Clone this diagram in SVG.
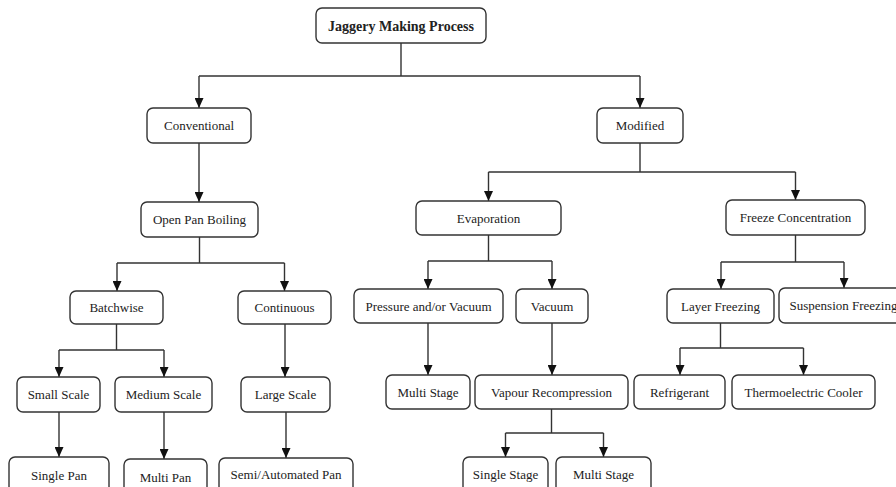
<svg xmlns="http://www.w3.org/2000/svg" width="896" height="487" viewBox="0 0 896 487">
<style>
.box{fill:#fff;stroke:#333;stroke-width:1.4}
.t{font-family:"Liberation Serif","Times New Roman",serif;font-size:13px;fill:#222;text-anchor:middle}
.tb{font-family:"Liberation Serif","Times New Roman",serif;font-size:14px;font-weight:bold;fill:#222;text-anchor:middle}
.c{fill:none;stroke:#333;stroke-width:1.4}
.a{fill:none;stroke:#333;stroke-width:1.4;marker-end:url(#arr)}
</style>
<defs>
<marker id="arr" markerUnits="userSpaceOnUse" markerWidth="10" markerHeight="9" refX="10" refY="4.5" orient="auto">
<path d="M0,0 L10,4.5 L0,9 z" fill="#111"/>
</marker>
</defs>
<rect width="896" height="487" fill="#fff"/>
<g id="connectors">
<path class="c" d="M401,43 V76 M199,76 H640"/>
<path class="a" d="M199,76 V108"/>
<path class="a" d="M640,76 V108"/>
<path class="a" d="M199,143 V202"/>
<path class="c" d="M199.5,237 V263 M117,263 H284.5"/>
<path class="a" d="M117,263 V291"/>
<path class="a" d="M284.5,263 V291"/>
<path class="c" d="M116.5,324 V350 M59,350 H164"/>
<path class="a" d="M59,350 V377"/>
<path class="a" d="M164,350 V377"/>
<path class="a" d="M285,324 V377"/>
<path class="a" d="M59,412 V457"/>
<path class="a" d="M164,412 V459"/>
<path class="a" d="M286,412 V458"/>
<path class="c" d="M640,143 V172 M488.5,172 H795.5"/>
<path class="a" d="M488.5,172 V201"/>
<path class="a" d="M795.5,172 V200"/>
<path class="c" d="M488.5,235 V261 M428,261 H552"/>
<path class="a" d="M428,261 V289"/>
<path class="a" d="M552,261 V289"/>
<path class="a" d="M428,323 V375"/>
<path class="a" d="M552,323 V375"/>
<path class="c" d="M551.5,409 V433 M505.5,433 H603.5"/>
<path class="a" d="M505.5,433 V457"/>
<path class="a" d="M603.5,433 V457"/>
<path class="c" d="M795.5,235 V262 M721,262 H844"/>
<path class="a" d="M721,262 V289"/>
<path class="a" d="M844,262 V288"/>
<path class="c" d="M720.5,323 V348 M680,348 H803.5"/>
<path class="a" d="M680,348 V375"/>
<path class="a" d="M803.5,348 V375"/>
</g>
<g id="n-title"><rect class="box" x="316" y="8" width="170" height="35" rx="6"/><text class="tb" x="401" y="30.5">Jaggery Making Process</text></g>
<g id="n-conventional"><rect class="box" x="147" y="108" width="104" height="35" rx="6"/><text class="t" x="199" y="130">Conventional</text></g>
<g id="n-modified"><rect class="box" x="597" y="108" width="86" height="35" rx="6"/><text class="t" x="640" y="130">Modified</text></g>
<g id="n-openpan"><rect class="box" x="141" y="202" width="117" height="35" rx="6"/><text class="t" x="199.5" y="224">Open Pan Boiling</text></g>
<g id="n-evaporation"><rect class="box" x="416" y="201" width="145" height="34" rx="6"/><text class="t" x="488.5" y="222.5">Evaporation</text></g>
<g id="n-freeze"><rect class="box" x="726" y="200" width="139" height="35" rx="6"/><text class="t" x="795.5" y="222">Freeze Concentration</text></g>
<g id="n-batchwise"><rect class="box" x="70" y="291" width="93" height="33" rx="6"/><text class="t" x="116.5" y="312">Batchwise</text></g>
<g id="n-continuous"><rect class="box" x="238" y="291" width="93" height="33" rx="6"/><text class="t" x="284.5" y="312">Continuous</text></g>
<g id="n-pressure"><rect class="box" x="354" y="289" width="149" height="34" rx="6"/><text class="t" x="428.5" y="310.5">Pressure and/or Vacuum</text></g>
<g id="n-vacuum"><rect class="box" x="516" y="289" width="72" height="34" rx="6"/><text class="t" x="552" y="310.5">Vacuum</text></g>
<g id="n-layer"><rect class="box" x="667" y="289" width="107" height="34" rx="6"/><text class="t" x="720.5" y="310.5">Layer Freezing</text></g>
<g id="n-suspension"><rect class="box" x="779" y="288" width="130" height="35" rx="6"/><text class="t" x="843.5" y="310">Suspension Freezing</text></g>
<g id="n-small"><rect class="box" x="17" y="377" width="83" height="35" rx="6"/><text class="t" x="58.5" y="399">Small Scale</text></g>
<g id="n-medium"><rect class="box" x="115" y="377" width="97" height="35" rx="6"/><text class="t" x="163.5" y="399">Medium Scale</text></g>
<g id="n-large"><rect class="box" x="241" y="377" width="89" height="35" rx="6"/><text class="t" x="285.5" y="399">Large Scale</text></g>
<g id="n-multistage1"><rect class="box" x="386" y="375" width="84" height="34" rx="6"/><text class="t" x="428" y="396.5">Multi Stage</text></g>
<g id="n-vapour"><rect class="box" x="475" y="375" width="153" height="34" rx="6"/><text class="t" x="551.5" y="396.5">Vapour Recompression</text></g>
<g id="n-refrigerant"><rect class="box" x="634" y="375" width="91" height="34" rx="6"/><text class="t" x="679.5" y="396.5">Refrigerant</text></g>
<g id="n-thermo"><rect class="box" x="732" y="375" width="143" height="34" rx="6"/><text class="t" x="803.5" y="396.5">Thermoelectric Cooler</text></g>
<g id="n-singlepan"><rect class="box" x="9" y="457" width="100" height="40" rx="6"/><text class="t" x="59" y="480">Single Pan</text></g>
<g id="n-multipan"><rect class="box" x="124" y="459" width="83" height="40" rx="6"/><text class="t" x="165.5" y="482">Multi Pan</text></g>
<g id="n-semi"><rect class="box" x="219" y="458" width="134" height="40" rx="6"/><text class="t" x="286" y="479">Semi/Automated Pan</text></g>
<g id="n-singlestage"><rect class="box" x="463" y="457" width="85" height="40" rx="6"/><text class="t" x="505.5" y="479">Single Stage</text></g>
<g id="n-multistage2"><rect class="box" x="556" y="457" width="95" height="40" rx="6"/><text class="t" x="603.5" y="479">Multi Stage</text></g>
</svg>
